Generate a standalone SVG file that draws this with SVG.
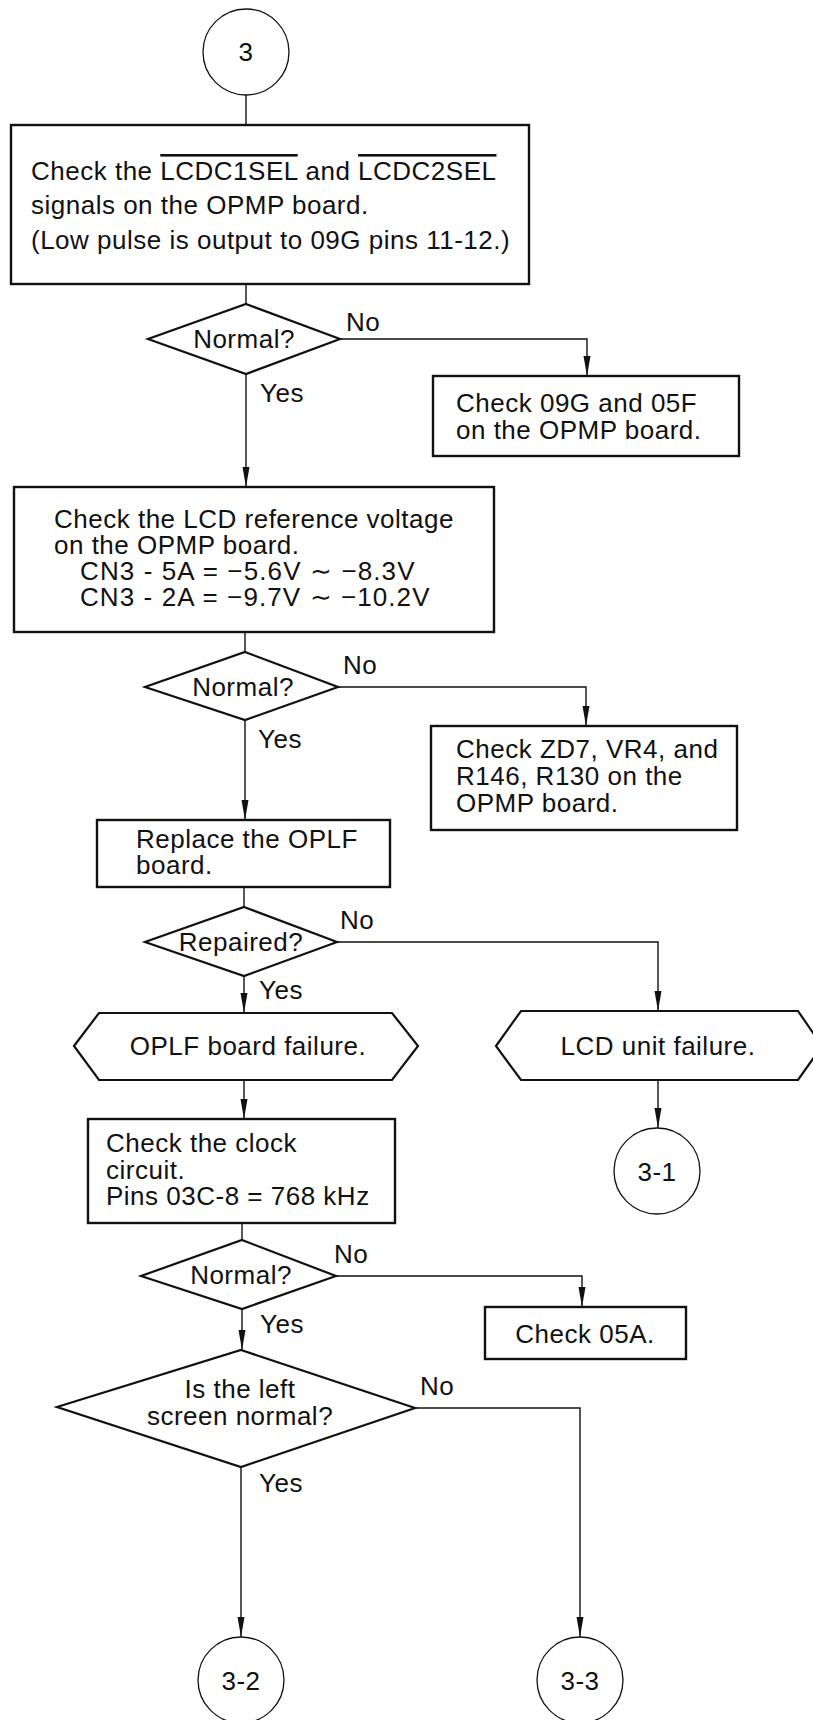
<svg xmlns="http://www.w3.org/2000/svg" width="813" height="1720" viewBox="0 0 813 1720">
<defs>
<style>
text{font-family:"Liberation Sans",Arial,Helvetica,sans-serif;font-size:26px;letter-spacing:0.5px;fill:#111}
.c{text-anchor:middle}
.box{fill:#fff;stroke:#111;stroke-width:2.4}
.dia{fill:#fff;stroke:#111;stroke-width:2.2}
.term{fill:#fff;stroke:#111;stroke-width:1.3}
.ln{fill:none;stroke:#111;stroke-width:1.4}
.arr{fill:none;stroke:#111;stroke-width:1.4;marker-end:url(#ah)}
</style>
<marker id="ah" markerUnits="userSpaceOnUse" markerWidth="20" markerHeight="8" refX="20" refY="3.5" orient="auto">
<path d="M0,0 L20,3.5 L0,7 z" fill="#111"/>
</marker>
</defs>
<rect width="813" height="1720" fill="#fff"/>

<g id="connectors">
<path class="ln" d="M246,95 V125"/>
<path class="ln" d="M246,284 V304"/>
<path class="arr" d="M340,339 H587 V376"/>
<path class="arr" d="M246,374 V487"/>
<path class="ln" d="M245,632 V652"/>
<path class="arr" d="M338,687 H586 V726"/>
<path class="arr" d="M245,720 V820"/>
<path class="ln" d="M244,887 V907"/>
<path class="arr" d="M337,942 H658 V1011"/>
<path class="arr" d="M244,976 V1013"/>
<path class="arr" d="M244,1080 V1119"/>
<path class="arr" d="M658,1080 V1128"/>
<path class="ln" d="M242,1223 V1240"/>
<path class="arr" d="M336,1276 H582 V1307"/>
<path class="arr" d="M242,1309 V1350"/>
<path class="arr" d="M415,1408 H580 V1637"/>
<path class="arr" d="M241,1467 V1637"/>
</g>

<g id="start3">
<circle class="term" cx="246" cy="52" r="43"/>
<text class="c" x="246" y="61">3</text>
</g>

<g id="box1">
<rect class="box" x="11" y="125" width="518" height="159"/>
<text x="31" y="180">Check the <tspan text-decoration="overline">LCDC1SEL</tspan> and <tspan text-decoration="overline">LCDC2SEL</tspan></text>
<text x="31" y="214">signals on the OPMP board.</text>
<text x="31" y="249">(Low pulse is output to 09G pins 11-12.)</text>
</g>

<g id="dec1">
<polygon class="dia" points="246,304 340,339 246,374 148,339"/>
<text class="c" x="244" y="348">Normal?</text>
<text x="346" y="331">No</text>
<text x="260" y="402">Yes</text>
</g>

<g id="box2">
<rect class="box" x="433" y="376" width="306" height="80"/>
<text x="456" y="412">Check 09G and 05F</text>
<text x="456" y="439">on the OPMP board.</text>
</g>

<g id="box3">
<rect class="box" x="14" y="487" width="480" height="145"/>
<text x="54" y="528">Check the LCD reference voltage</text>
<text x="54" y="554">on the OPMP board.</text>
<text x="80" y="580" textLength="335" lengthAdjust="spacing">CN3 - 5A = −5.6V ∼ −8.3V</text>
<text x="80" y="606" textLength="350" lengthAdjust="spacing">CN3 - 2A = −9.7V ∼ −10.2V</text>
</g>

<g id="dec2">
<polygon class="dia" points="245,652 338,687 245,720 145,687"/>
<text class="c" x="243" y="696">Normal?</text>
<text x="343" y="674">No</text>
<text x="258" y="748">Yes</text>
</g>

<g id="box4">
<rect class="box" x="431" y="726" width="306" height="104"/>
<text x="456" y="758">Check ZD7, VR4, and</text>
<text x="456" y="785">R146, R130 on the</text>
<text x="456" y="812">OPMP board.</text>
</g>

<g id="box5">
<rect class="box" x="97" y="820" width="293" height="67"/>
<text x="136" y="848">Replace the OPLF</text>
<text x="136" y="874">board.</text>
</g>

<g id="dec3">
<polygon class="dia" points="244,907 337,942 244,976 145,942"/>
<text class="c" x="241" y="951">Repaired?</text>
<text x="340" y="929">No</text>
<text x="259" y="999">Yes</text>
</g>

<g id="hex1">
<polygon class="dia" points="74,1046 99,1013 392,1013 418,1046 392,1080 99,1080"/>
<text class="c" x="248" y="1055">OPLF board failure.</text>
</g>

<g id="hex2">
<polygon class="dia" points="496,1046 521,1011 798,1011 822,1046 798,1080 521,1080"/>
<text class="c" x="658" y="1055">LCD unit failure.</text>
</g>

<g id="end31">
<circle class="term" cx="657" cy="1171" r="43"/>
<text class="c" x="657" y="1181">3-1</text>
</g>

<g id="box6">
<rect class="box" x="88" y="1119" width="307" height="104"/>
<text x="106" y="1152">Check the clock</text>
<text x="106" y="1179">circuit.</text>
<text x="106" y="1205">Pins 03C-8 = 768 kHz</text>
</g>

<g id="dec4">
<polygon class="dia" points="242,1240 336,1276 242,1309 141,1276"/>
<text class="c" x="241" y="1284">Normal?</text>
<text x="334" y="1263">No</text>
<text x="260" y="1333">Yes</text>
</g>

<g id="box7">
<rect class="box" x="485" y="1307" width="201" height="52"/>
<text class="c" x="585" y="1343">Check 05A.</text>
</g>

<g id="dec5">
<polygon class="dia" points="241,1350 415,1408 241,1467 57,1407"/>
<text class="c" x="240" y="1398">Is the left</text>
<text class="c" x="240" y="1425">screen normal?</text>
<text x="420" y="1395">No</text>
<text x="259" y="1492">Yes</text>
</g>

<g id="end32">
<circle class="term" cx="241" cy="1680" r="43"/>
<text class="c" x="241" y="1690">3-2</text>
</g>

<g id="end33">
<circle class="term" cx="580" cy="1680" r="43"/>
<text class="c" x="580" y="1690">3-3</text>
</g>
</svg>
